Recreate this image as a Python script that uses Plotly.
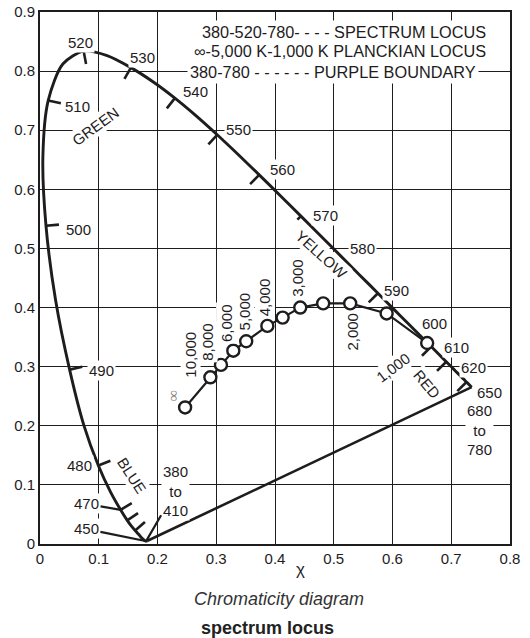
import numpy as np
import plotly.graph_objects as go

# ---------------- data ----------------
wavelengths = [380, 385, 390, 395, 400, 405, 410, 415, 420, 425, 430, 435, 440,
               445, 450, 455, 460, 465, 470, 475, 480, 485, 490, 495, 500, 505,
               510, 515, 520, 525, 530, 535, 540, 545, 550, 555, 560, 565, 570,
               575, 580, 585, 590, 595, 600, 605, 610, 615, 620, 625, 630, 635,
               640, 645, 650, 655, 660, 665, 670, 675, 680, 690, 700, 780]
locus_x = [0.1821, 0.1820, 0.1818, 0.1816, 0.1813, 0.1810, 0.1806, 0.1801, 0.1794, 0.1783, 0.1769, 0.1749, 0.1724,
           0.1701, 0.1666, 0.1620, 0.1560, 0.1485, 0.1371, 0.1206, 0.0993, 0.0747, 0.0504, 0.0265, 0.0102, 0.0049,
           0.0139, 0.0389, 0.0743, 0.1142, 0.1547, 0.1929, 0.2296, 0.2658, 0.3016, 0.3373, 0.3731, 0.4087, 0.4441,
           0.4788, 0.5125, 0.5448, 0.5752, 0.6029, 0.6270, 0.6482, 0.6658, 0.6801, 0.6915, 0.7006, 0.7079, 0.7140,
           0.7190, 0.7230, 0.7260, 0.7283, 0.7300, 0.7311, 0.7320, 0.7327, 0.7334, 0.7344, 0.7347, 0.7347]
locus_y = [0.0050, 0.0050, 0.0049, 0.0049, 0.0048, 0.0048, 0.0048, 0.0048, 0.0051, 0.0058, 0.0069, 0.0086, 0.0109,
           0.0138, 0.0177, 0.0227, 0.0297, 0.0399, 0.0578, 0.0868, 0.1327, 0.2007, 0.2950, 0.4127, 0.5384, 0.6548,
           0.7502, 0.8120, 0.8338, 0.8262, 0.8059, 0.7816, 0.7543, 0.7243, 0.6923, 0.6589, 0.6245, 0.5896, 0.5547,
           0.5202, 0.4866, 0.4544, 0.4242, 0.3965, 0.3725, 0.3514, 0.3340, 0.3197, 0.3083, 0.2993, 0.2920, 0.2859,
           0.2809, 0.2770, 0.2740, 0.2717, 0.2700, 0.2689, 0.2680, 0.2673, 0.2666, 0.2656, 0.2653, 0.2653]

planck_labels = ["∞", "10,000", "8,000", "6,000", "5,000", "4,000", "3,500",
                 "3,000", "2,500", "2,000", "1,500", "1,000"]
planck_x = [0.247, 0.290, 0.308, 0.329, 0.351, 0.387, 0.413, 0.443, 0.482, 0.528, 0.590, 0.659]
planck_y = [0.231, 0.282, 0.303, 0.327, 0.343, 0.369, 0.383, 0.400, 0.407, 0.407, 0.390, 0.340]

tick_wavelengths = [455, 465, 470, 480, 490, 500, 510, 520, 530, 540, 550, 560, 570, 590, 610, 620, 650]

x_ticks = [0, 0.1, 0.2, 0.3, 0.4, 0.5, 0.6, 0.7, 0.8]
x_tick_labels = ["0", "0.1", "0.2", "0.3", "0.4", "0.5", "0.6", "0.7", "0.8"]
y_ticks = [0, 0.1, 0.2, 0.3, 0.4, 0.5, 0.6, 0.7, 0.8, 0.9]
y_tick_labels = ["0", "0.1", "0.2", "0.3", "0.4", "0.5", "0.6", "0.7", "0.8", "0.9"]

legend_lines = ["380-520-780- - - - SPECTRUM LOCUS",
                "∞-5,000 K-1,000 K PLANCKIAN LOCUS",
                "380-780 - - - - - - PURPLE BOUNDARY"]

# ---------------- layout constants ----------------
W, H = 530, 638
ML, MR, MT, MB = 40, 20, 12, 94
SX = (W - ML - MR) / 0.8
SY = (H - MT - MB) / 0.9
INK = "#1e1c1d"
FONT = "Liberation Sans, Arial, Helvetica, sans-serif"

idx = {w: i for i, w in enumerate(wavelengths)}

fig = go.Figure()

# purple boundary
i0, i1 = idx[380], idx[780]
fig.add_trace(go.Scatter(x=[locus_x[i0], locus_x[i1]], y=[locus_y[i0], locus_y[i1]],
                         mode="lines", line=dict(color=INK, width=2.6),
                         hoverinfo="skip", showlegend=False))

# spectrum locus (drop duplicated end point)
sx_, sy_ = [], []
for x, y in zip(locus_x, locus_y):
    if sx_ and abs(x - sx_[-1]) < 1e-4 and abs(y - sy_[-1]) < 1e-4:
        continue
    sx_.append(x)
    sy_.append(y)
fig.add_trace(go.Scatter(x=sx_, y=sy_, mode="lines",
                         line=dict(color=INK, width=2.9, shape="spline", smoothing=0.8),
                         hoverinfo="skip", showlegend=False))

# wavelength ticks (inward normals)
tick_len = {570: 5}
tx, ty = [], []
for w in tick_wavelengths:
    i = idx[w]
    x0, y0 = locus_x[i], locus_y[i]
    dxp = (locus_x[i + 1] - locus_x[i - 1]) * SX
    dyp = (locus_y[i + 1] - locus_y[i - 1]) * SY
    n = np.hypot(dxp, dyp)
    nx, ny = dyp / n, -dxp / n
    L = tick_len.get(w, 13)
    tx += [x0, x0 + L * nx / SX, None]
    ty += [y0, y0 + L * ny / SY, None]
fig.add_trace(go.Scatter(x=tx, y=ty, mode="lines", line=dict(color=INK, width=2.6),
                         hoverinfo="skip", showlegend=False))

# Planckian locus
fig.add_trace(go.Scatter(x=planck_x, y=planck_y, mode="lines+markers",
                         line=dict(color=INK, width=2.2),
                         marker=dict(size=12, color="white", line=dict(color=INK, width=2.4)),
                         hoverinfo="skip", showlegend=False))

ann = []
base = dict(showarrow=False, font=dict(family=FONT, size=15, color=INK),
            bgcolor="white", borderpad=1)

# wavelength labels: (text, wavelength, dx px, dy px (down))
wl_label_specs = [("480", 480, -19, 0), ("490", 490, 32, 1), ("500", 500, 33, 3.5),
                  ("510", 510, 29, 6), ("520", 520, -3, -9), ("530", 530, 12, -10),
                  ("540", 540, 21, -6.5), ("550", 550, 21, -5), ("560", 560, 23, -5),
                  ("570", 570, 25, -1), ("580", 580, 21, -8), ("590", 590, 19, -3),
                  ("600", 600, 26, -0.6), ("610", 610, 25, 0.7), ("620", 620, 27, 5.5),
                  ("650", 650, 23, 10), ("680<br>to<br>780", 780, 8, 43)]
for text, w, dx, dy in wl_label_specs:
    i = idx[w]
    ann.append(dict(base, x=locus_x[i], y=locus_y[i], text=text, xshift=dx, yshift=-dy))

# leader labels: (text, wavelength of tip, ax, ay)
leader_specs = [("470", 470, -34, -6), ("450", 420, -59, -12), ("380<br>to<br>410", 410, 29, -50)]
for text, w, ax, ay in leader_specs:
    i = idx[w]
    ann.append(dict(x=locus_x[i], y=locus_y[i], text=text, showarrow=True, ax=ax, ay=ay,
                    arrowhead=0, arrowwidth=2.2, arrowcolor=INK, standoff=0,
                    font=dict(family=FONT, size=15, color=INK), bgcolor="white", borderpad=1))

# Planckian labels: (index, dx, dy, angle)
planck_label_specs = [(1, -20, -23, -90), (2, -13, -23, -90), (3, -7, -28, -90), (4, -2, -30, -90),
                      (5, -2, -29, -90), (7, -3, -30, -90), (9, 2, 28, -90), (11, -34, 24, -37)]
for k, dx, dy, ang in planck_label_specs:
    ann.append(dict(base, x=planck_x[k], y=planck_y[k], text=planck_labels[k],
                    xshift=dx, yshift=-dy, textangle=ang))
ann.append(dict(showarrow=False, x=planck_x[0], y=planck_y[0], text=planck_labels[0],
                xshift=-11, yshift=12, textangle=90,
                font=dict(family="Liberation Serif, serif", size=16, color="#8a8a8a")))

# region names
regions = [("GREEN", 0.094, 0.706, -36), ("YELLOW", 0.479, 0.490, 42),
           ("RED", 0.659, 0.270, 50), ("BLUE", 0.156, 0.1155, 57)]
for text, x, y, ang in regions:
    ann.append(dict(base, x=x, y=y, text=text, textangle=ang))

# legend lines
legend_pos = [(0.765, 0.866), (0.765, 0.8347), (0.748, 0.799)]
for text, (x, y) in zip(legend_lines, legend_pos):
    ann.append(dict(base, x=x, y=y, text=text, xanchor="right",
                    font=dict(family=FONT, size=16.3, color=INK), borderpad=2))

# axis title and captions
ann.append(dict(showarrow=False, xref="paper", yref="paper", x=0.555, y=-0.047, text="χ",
                font=dict(family=FONT, size=17, color=INK), yanchor="middle"))
ann.append(dict(showarrow=False, xref="paper", yref="paper", x=0.5085, y=-0.1034,
                text="<i>Chromaticity diagram</i>",
                font=dict(family=FONT, size=18, color="#333333"), yanchor="middle"))
ann.append(dict(showarrow=False, xref="paper", yref="paper", x=0.485, y=-0.158,
                text="<b>spectrum locus</b>",
                font=dict(family=FONT, size=18, color="#222222"), yanchor="middle"))

axis_common = dict(showgrid=True, gridcolor=INK, gridwidth=1.4, zeroline=False,
                   showline=True, linecolor=INK, linewidth=2, mirror=True, ticks="",
                   automargin=False,
                   tickfont=dict(family=FONT, size=15, color=INK))
fig.update_layout(
    width=W, height=H, margin=dict(l=ML, r=MR, t=MT, b=MB, autoexpand=False),
    plot_bgcolor="white", paper_bgcolor="white", showlegend=False,
    xaxis=dict(axis_common, range=[0, 0.8], tickvals=x_ticks, ticktext=x_tick_labels),
    yaxis=dict(axis_common, range=[0, 0.9], tickvals=y_ticks, ticktext=y_tick_labels),
    annotations=ann,
)
fig.write_html("out.html", config={"displayModeBar": False},
               post_script="document.body.style.margin='0px';document.body.style.overflow='hidden';")
